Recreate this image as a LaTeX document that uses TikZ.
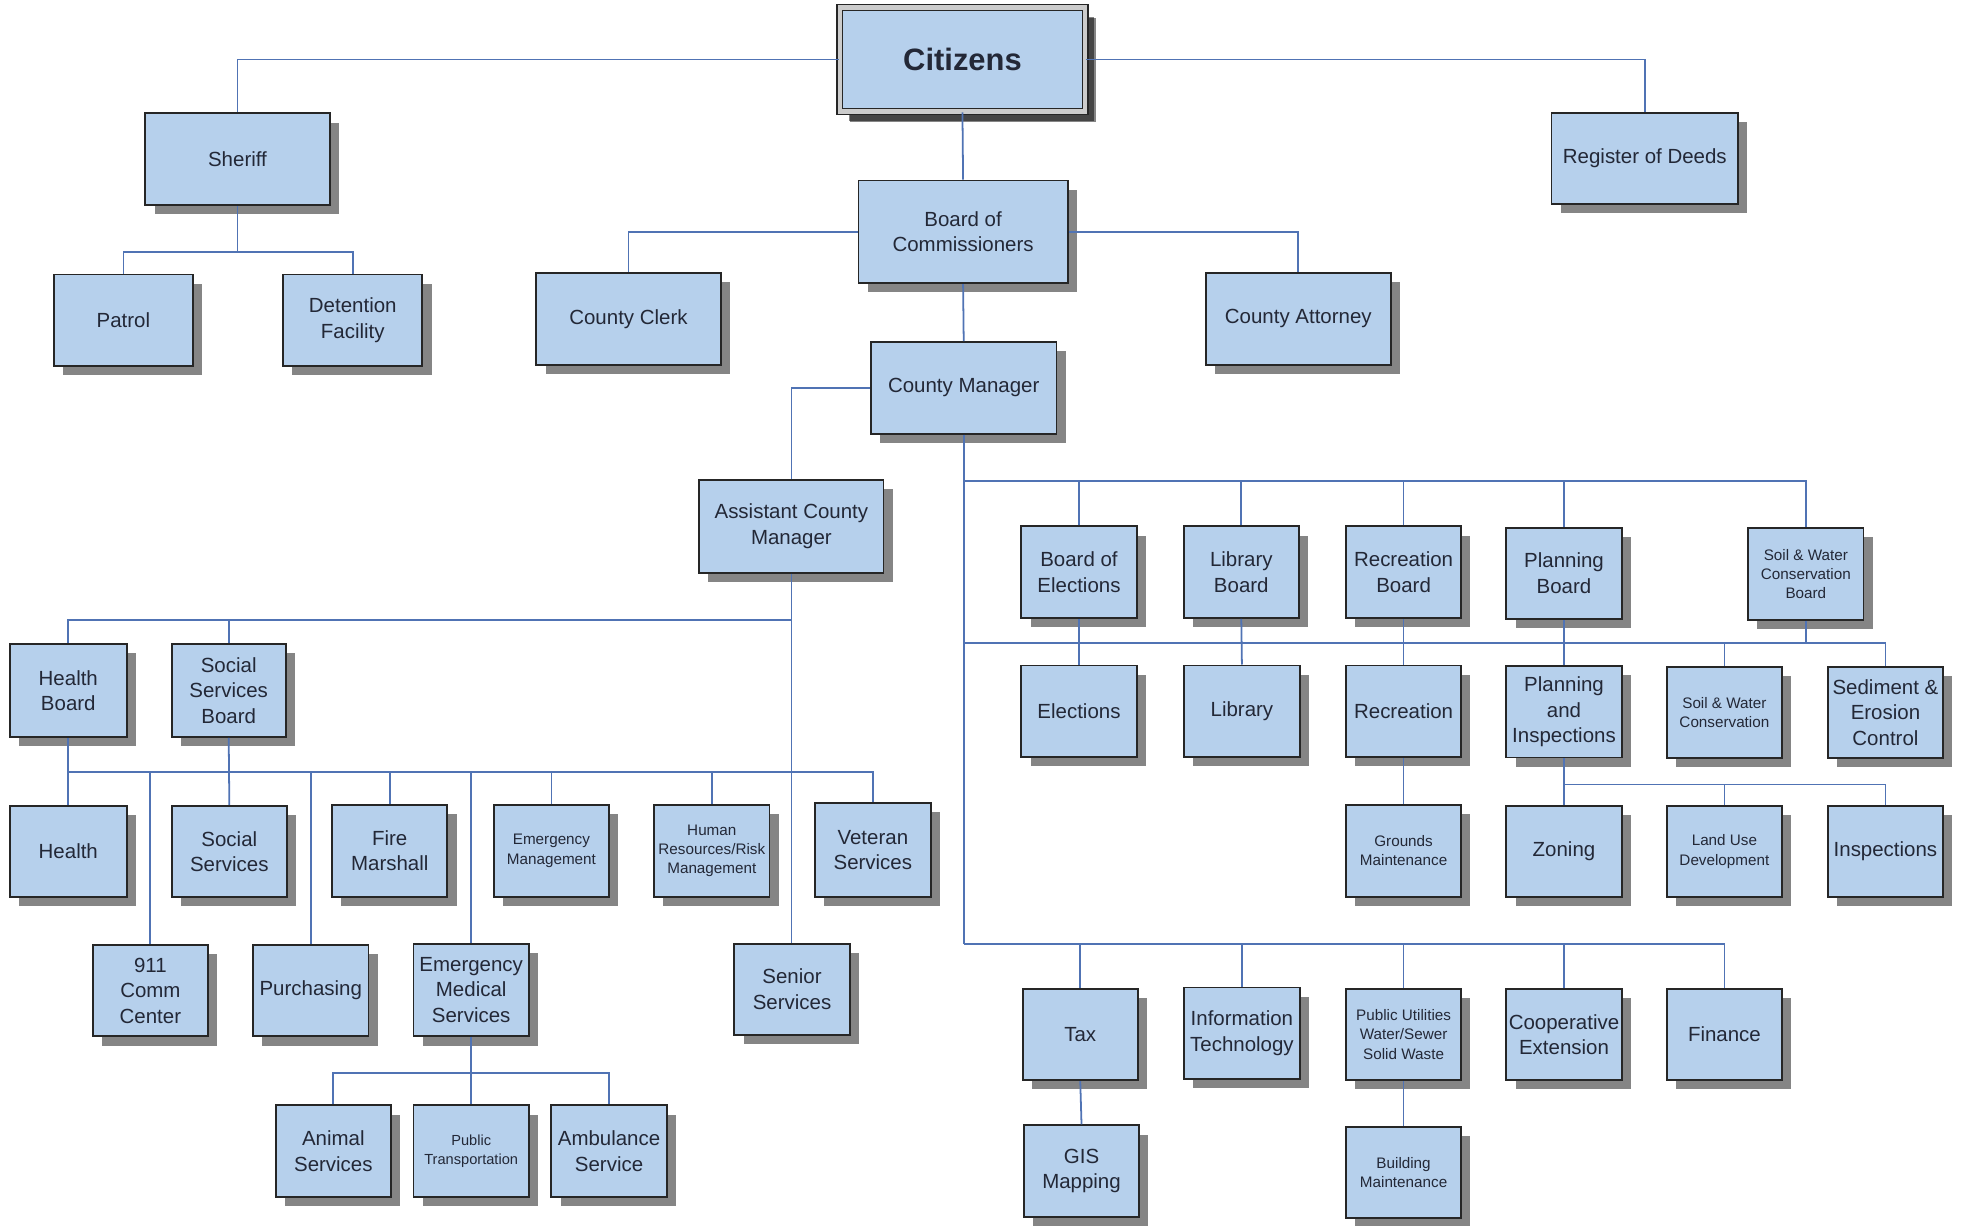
\documentclass[tikz,border=0pt]{standalone}
\usepackage{fontspec}
\setmainfont{Liberation Sans}
\usetikzlibrary{shadows}
\definecolor{boxfill}{RGB}{182,208,236}
\definecolor{linkblue}{RGB}{80,115,180}
\definecolor{txt}{RGB}{35,40,55}
\tikzset{
  box/.style={draw=black!85, line width=0.9pt, fill=boxfill, text=txt, align=center, inner sep=1pt,
     drop shadow={shadow xshift=4.4pt, shadow yshift=-4.4pt, fill=black, opacity=0.48},
     font=\fontsize{9.8}{12.2}\selectfont},
  sz/.style 2 args={minimum width=#1*0.6pt, minimum height=#2*0.6pt},
  std/.style={box, sz={92}{73}},
  wide/.style={box, sz={147}{73}},
  small/.style={font=\fontsize{7.3}{9.2}\selectfont},
  link/.style={draw=linkblue, line width=0.85pt}
}
\begin{document}
\begin{tikzpicture}[x=0.6pt,y=-0.6pt]
\useasboundingbox (0,0) rectangle (1568,978);
% top
\node[box, sz={196}{83}, double=black!20, double distance=2pt, line width=0.8pt,
  drop shadow={shadow xshift=5pt, shadow yshift=-5pt, fill=black, opacity=0.48},
  font=\fontsize{14.8}{17}\selectfont\bfseries] (cit) at (768,47.5) {Citizens};
\node[wide] (sher) at (189.5,127) {Sheriff};
\node[wide, sz={149}{73}] (reg) at (1312.5,126.5) {Register of Deeds};
\node[box, sz={167}{82}] (board) at (768.5,185) {Board of\\Commissioners};
\node[box, sz={111}{73}] (pat) at (98.5,255.5) {Patrol};
\node[box, sz={111}{73}] (det) at (281.5,255.5) {Detention\\Facility};
\node[wide] (clerk) at (501.5,254.5) {County Clerk};
\node[wide, sz={148}{73}] (atty) at (1036,254.5) {County Attorney};
\node[wide, sz={148}{73}] (mgr) at (769,309.5) {County Manager};
\node[wide, sz={147}{74}] (acm) at (631.5,420) {Assistant County\\Manager};
% right boards
\node[std] (boe) at (861,456.5) {Board of\\Elections};
\node[std] (libb) at (990.5,456.5) {Library\\Board};
\node[std] (recb) at (1120,456.5) {Recreation\\Board};
\node[std] (planb) at (1248,457.5) {Planning\\Board};
\node[std, small] (swb) at (1441,458) {Soil \& Water\\Conservation\\Board};
\node[std] (elec) at (861,567.5) {Elections};
\node[std] (lib) at (991,567.5) {Library};
\node[std] (rec) at (1120,567.5) {Recreation};
\node[std] (plan) at (1248,568) {Planning\\and\\Inspections};
\node[std, small] (swc) at (1376,568.5) {Soil \& Water\\Conservation};
\node[std] (sed) at (1504.5,568.5) {Sediment \&\\Erosion\\Control};
\node[std, small] (grnd) at (1120,679) {Grounds\\Maintenance};
\node[std] (zon) at (1248,679.5) {Zoning};
\node[std, small] (land) at (1376,679.5) {Land Use\\Development};
\node[std] (insp) at (1504.5,679.5) {Inspections};
\node[std] (tax) at (862,825.5) {Tax};
\node[std] (it) at (991,824.5) {Information\\Technology};
\node[std, small] (pu) at (1120,825.5) {Public Utilities\\Water/Sewer\\Solid Waste};
\node[std] (coop) at (1248,825.5) {Cooperative\\Extension};
\node[std] (fin) at (1376,825.5) {Finance};
\node[std] (gis) at (863,934.5) {GIS\\Mapping};
\node[std, small] (bm) at (1120,935.5) {Building\\Maintenance};
% left side
\node[std, sz={93}{74}] (hb) at (54.5,551) {Health\\Board};
\node[std, sz={91}{74}] (ssb) at (182.5,551) {Social\\Services\\Board};
\node[std, sz={93}{73}] (health) at (54.5,679.5) {Health};
\node[std] (ss) at (183,679.5) {Social\\Services};
\node[std] (fire) at (311,679) {Fire\\Marshall};
\node[std, small] (em) at (440,679) {Emergency\\Management};
\node[std, small] (hr) at (568,679) {Human\\Resources/Risk\\Management};
\node[std, sz={93}{75}] (vet) at (696.5,678.5) {Veteran\\Services};
\node[std] (c911) at (120,790.5) {911\\Comm\\Center};
\node[std] (purch) at (248,790.5) {Purchasing};
\node[std, sz={92}{74}] (ems) at (376,790) {Emergency\\Medical\\Services};
\node[std] (sen) at (632,789.5) {Senior\\Services};
\node[std] (anim) at (266,918.5) {Animal\\Services};
\node[std, font=\fontsize{7}{9}\selectfont] (pt) at (376,918.5) {Public\\Transportation};
\node[std] (amb) at (486,918.5) {Ambulance\\Service};
% bus levels
\coordinate (b201) at (0,201);
\coordinate (b384) at (0,384);
\coordinate (b495) at (0,495);
\coordinate (b513) at (0,513);
\coordinate (b616) at (0,616);
\coordinate (b626) at (0,626);
\coordinate (b753) at (0,753);
\coordinate (b856) at (0,856);
% connectors
\draw[link] (cit.west) -| (sher.north);
\draw[link] (cit.east) -| (reg.north);
\draw[link] (cit.south) -- (board.north);
\draw[link] (board.west) -| (clerk.north);
\draw[link] (board.east) -| (atty.north);
\draw[link] (board.south) -- (mgr.north);
\draw[link] (sher.south) -- (sher.south |- b201);
\draw[link] (pat.north) -- (pat.north |- b201) -- (det.north |- b201) -- (det.north);
\draw[link] (mgr.west) -| (acm.north);
\draw[link] (mgr.south) -- (mgr.south |- b753);
\draw[link] (mgr.south |- b384) -| (swb.north);
\foreach \n in {boe,libb,recb,planb} \draw[link] (\n.north) -- (\n.north |- b384);
\draw[link] (mgr.south |- b513) -| (sed.north);
\draw[link] (boe.south) -- (elec.north);
\draw[link] (libb.south) -- (lib.north);
\draw[link] (recb.south) -- (rec.north);
\draw[link] (planb.south) -- (plan.north);
\draw[link] (swb.south) -- (swb.south |- b513);
\draw[link] (swc.north) -- (swc.north |- b513);
\draw[link] (rec.south) -- (grnd.north);
\draw[link] (plan.south) -- (plan.south |- b626) -| (insp.north);
\draw[link] (plan.south |- b626) -- (zon.north);
\draw[link] (land.north) -- (land.north |- b626);
\draw[link] (mgr.south |- b753) -| (fin.north);
\foreach \n in {tax,it,pu,coop} \draw[link] (\n.north) -- (\n.north |- b753);
\draw[link] (tax.south) -- (gis.north);
\draw[link] (pu.south) -- (bm.north);
\draw[link] (acm.south) -- (acm.south |- sen.north);
\draw[link] (acm.south |- b495) -| (hb.north);
\draw[link] (ssb.north) -- (ssb.north |- b495);
\draw[link] (hb.south) -- (health.north);
\draw[link] (ssb.south) -- (ss.north);
\draw[link] (hb.south |- b616) -| (vet.north);
\foreach \n in {c911,purch,fire,ems,em,hr} \draw[link] (\n.north) -- (\n.north |- b616);
\draw[link] (ems.south) -- (pt.north);
\draw[link] (anim.north) -- (anim.north |- b856) -| (amb.north);
\end{tikzpicture}
\end{document}
